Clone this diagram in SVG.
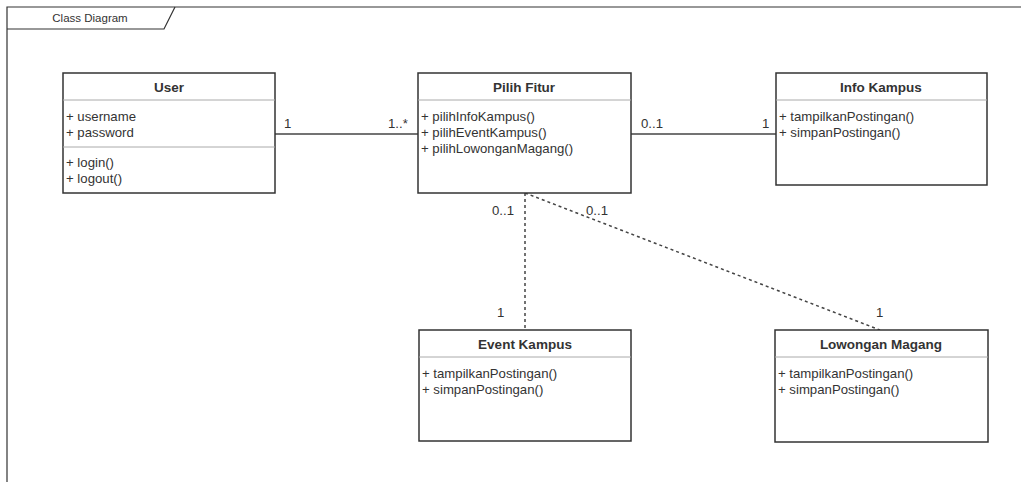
<svg xmlns="http://www.w3.org/2000/svg" width="1021" height="482" viewBox="0 0 1021 482">
<style>
.box{fill:#fff;stroke:#333;stroke-width:1.5}
.sep{stroke:#aaa;stroke-width:1}
.t{font-family:"Liberation Sans",Arial,sans-serif;font-size:13.2px;fill:#333}
.h{font-family:"Liberation Sans",Arial,sans-serif;font-size:13.5px;font-weight:bold;fill:#333;text-anchor:middle}
.ln{stroke:#444;stroke-width:1.5;fill:none}
.dot{stroke:#444;stroke-width:1.5;fill:none;stroke-dasharray:3 3}
</style>
<rect width="1021" height="482" fill="#fff"/>
<g id="frame">
<path d="M7,482 V7 H1021" fill="none" stroke="#333" stroke-width="1.2"/>
<path d="M7,29 H164 L175,7" fill="none" stroke="#333" stroke-width="1.2"/>
<text x="90" y="22" class="t" style="font-size:11.5px" text-anchor="middle">Class Diagram</text>
</g>
<g id="connectors">
<line class="ln" x1="275" y1="134" x2="418" y2="134"/>
<line class="ln" x1="631" y1="134" x2="776" y2="134"/>
<line class="dot" x1="525" y1="193" x2="525" y2="330"/>
<line class="dot" x1="525" y1="193" x2="880" y2="330"/>
<text class="t" x="284" y="128">1</text>
<text class="t" x="388" y="128">1..*</text>
<text class="t" x="641" y="128">0..1</text>
<text class="t" x="762" y="128">1</text>
<text class="t" x="492" y="215">0..1</text>
<text class="t" x="586" y="215">0..1</text>
<text class="t" x="497" y="317">1</text>
<text class="t" x="876" y="317">1</text>
</g>
<g id="user">
<rect class="box" x="63" y="73" width="212" height="120"/>
<line class="sep" x1="63" y1="100" x2="275" y2="100"/>
<line class="sep" x1="63" y1="147" x2="275" y2="147"/>
<text class="h" x="169" y="92">User</text>
<text class="t" x="66" y="121">+ username</text>
<text class="t" x="66" y="137">+ password</text>
<text class="t" x="66" y="167">+ login()</text>
<text class="t" x="66" y="183">+ logout()</text>
</g>
<g id="pilih-fitur">
<rect class="box" x="418" y="73" width="213" height="120"/>
<line class="sep" x1="418" y1="100" x2="631" y2="100"/>
<text class="h" x="524" y="92">Pilih Fitur</text>
<text class="t" x="421" y="121">+ pilihInfoKampus()</text>
<text class="t" x="421" y="137">+ pilihEventKampus()</text>
<text class="t" x="421" y="153">+ pilihLowonganMagang()</text>
</g>
<g id="info-kampus">
<rect class="box" x="776" y="73" width="211" height="112"/>
<line class="sep" x1="776" y1="100" x2="987" y2="100"/>
<text class="h" x="881" y="92">Info Kampus</text>
<text class="t" x="779" y="121">+ tampilkanPostingan()</text>
<text class="t" x="779" y="137">+ simpanPostingan()</text>
</g>
<g id="event-kampus">
<rect class="box" x="419" y="330" width="212" height="111"/>
<line class="sep" x1="419" y1="357" x2="631" y2="357"/>
<text class="h" x="525" y="349">Event Kampus</text>
<text class="t" x="422" y="378">+ tampilkanPostingan()</text>
<text class="t" x="422" y="394">+ simpanPostingan()</text>
</g>
<g id="lowongan-magang">
<rect class="box" x="775" y="330" width="213" height="112"/>
<line class="sep" x1="775" y1="357" x2="988" y2="357"/>
<text class="h" x="881" y="349">Lowongan Magang</text>
<text class="t" x="778" y="378">+ tampilkanPostingan()</text>
<text class="t" x="778" y="394">+ simpanPostingan()</text>
</g>
</svg>
